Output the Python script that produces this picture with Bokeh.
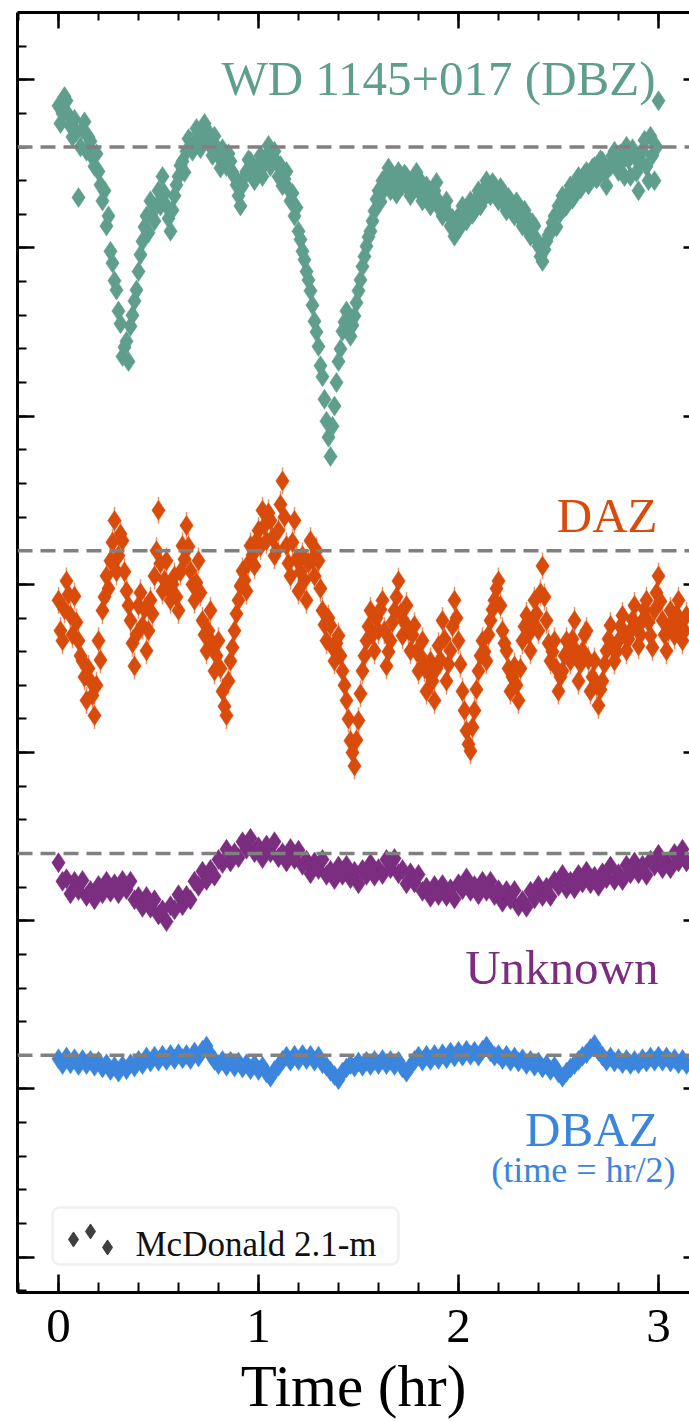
import numpy as np
from bokeh.plotting import figure
from bokeh.core.properties import value
from bokeh.models import (Range1d, LinearAxis, SingleIntervalTicker, Span,
                          BoxAnnotation, ColumnDataSource, CustomJSTickFormatter)
from bokeh.embed import file_html
from bokeh.resources import INLINE

# Normalised light curves (flux relative to each star's median level).
WD1145_CADENCE_HR = 0.01
WD1145_FLUX = [
    1.049, 1.028, 1.040, 1.060, 1.055, 1.038, 1.025, 1.012, 1.033, 1.018,
    0.940, 1.000, 1.021, 1.030, 0.995, 1.012, 1.007, 0.988, 0.977, 0.992,
    0.971, 0.955, 0.936, 0.948, 0.906, 0.918, 0.876, 0.862, 0.841, 0.830,
    0.805, 0.790, 0.751, 0.762, 0.769, 0.745, 0.787, 0.800, 0.817, 0.830,
    0.852, 0.872, 0.888, 0.905, 0.918, 0.898, 0.936, 0.925, 0.912, 0.930,
    0.948, 0.930, 0.965, 0.945, 0.930, 0.915, 0.900, 0.925, 0.942, 0.955,
    0.965, 0.978, 0.983, 0.970, 0.995, 1.010, 1.007, 0.995, 1.001, 1.022,
    1.017, 0.998, 1.007, 1.028, 1.021, 1.010, 1.001, 0.990, 1.013, 1.000,
    0.989, 0.975, 0.998, 0.985, 0.977, 0.992, 0.983, 0.970, 0.965, 0.955,
    0.942, 0.930, 0.954, 0.965, 0.971, 0.985, 0.983, 0.968, 0.960, 0.975,
    0.977, 0.990, 0.965, 0.980, 0.989, 1.002, 0.977, 0.990, 0.995, 0.982,
    0.965, 0.978, 0.954, 0.962, 0.971, 0.950, 0.936, 0.945, 0.918, 0.928,
    0.900, 0.890, 0.876, 0.866, 0.852, 0.842, 0.829, 0.812, 0.793, 0.780,
    0.763, 0.740, 0.727, 0.700, 0.674, 0.655, 0.632, 0.668, 0.692, 0.720,
    0.745, 0.760, 0.781, 0.792, 0.805, 0.790, 0.775, 0.788, 0.799, 0.815,
    0.829, 0.842, 0.858, 0.870, 0.882, 0.893, 0.900, 0.912, 0.924, 0.938,
    0.948, 0.935, 0.960, 0.950, 0.965, 0.975, 0.948, 0.958, 0.960, 0.944,
    0.971, 0.962, 0.954, 0.968, 0.965, 0.950, 0.942, 0.955, 0.960, 0.970,
    0.948, 0.960, 0.936, 0.945, 0.954, 0.940, 0.930, 0.945, 0.948, 0.958,
    0.936, 0.925, 0.918, 0.930, 0.936, 0.920, 0.906, 0.915, 0.894, 0.908,
    0.918, 0.905, 0.930, 0.915, 0.912, 0.928, 0.936, 0.920, 0.924, 0.938,
    0.948, 0.930, 0.936, 0.950, 0.960, 0.945, 0.942, 0.958, 0.954, 0.940,
    0.936, 0.952, 0.948, 0.932, 0.924, 0.940, 0.936, 0.922, 0.918, 0.935,
    0.930, 0.915, 0.906, 0.925, 0.918, 0.900, 0.894, 0.910, 0.906, 0.890,
    0.882, 0.870, 0.864, 0.878, 0.888, 0.895, 0.900, 0.910, 0.918, 0.905,
    0.930, 0.922, 0.942, 0.928, 0.930, 0.945, 0.954, 0.938, 0.942, 0.958,
    0.965, 0.950, 0.954, 0.968, 0.971, 0.955, 0.960, 0.975, 0.977, 0.962,
    0.965, 0.985, 0.983, 0.968, 0.954, 0.975, 0.977, 0.990, 0.995, 0.978,
    0.971, 0.992, 0.983, 0.965, 1.001, 0.985, 0.965, 0.998, 0.989, 0.970,
    0.948, 0.982, 0.995, 1.008, 0.977, 0.960, 1.013, 0.990, 0.960, 1.000,
    1.055,
]

DAZ_CADENCE_HR = 0.01
DAZ_FLUX = [
    0.941, 0.905, 0.893, 0.930, 0.964, 0.948, 0.923, 0.900, 0.946, 0.915,
    0.893, 0.875, 0.869, 0.850, 0.822, 0.860, 0.845, 0.828, 0.804, 0.840,
    0.893, 0.870, 0.929, 0.945, 0.970, 0.955, 0.988, 1.010, 1.036, 0.975,
    0.994, 1.020, 1.012, 0.975, 0.952, 0.935, 0.917, 0.890, 0.863, 0.900,
    0.935, 0.950, 0.911, 0.930, 0.881, 0.905, 0.941, 0.925, 0.970, 1.000,
    1.048, 0.985, 0.952, 0.965, 0.988, 0.955, 0.941, 0.960, 0.970, 0.945,
    0.929, 0.975, 1.006, 0.990, 1.030, 1.005, 0.976, 0.960, 0.941, 0.962,
    0.988, 0.950, 0.917, 0.900, 0.881, 0.905, 0.929, 0.890, 0.857, 0.875,
    0.893, 0.860, 0.833, 0.815, 0.804, 0.845, 0.869, 0.885, 0.905, 0.925,
    0.941, 0.958, 0.976, 0.965, 0.952, 0.985, 1.006, 0.995, 0.982, 1.012,
    1.024, 1.005, 1.048, 1.030, 1.012, 1.045, 1.036, 1.015, 0.994, 1.000,
    1.024, 1.055, 1.083, 1.040, 1.006, 0.985, 0.970, 1.010, 1.036, 0.990,
    0.952, 0.975, 0.994, 0.965, 0.941, 0.985, 1.012, 0.990, 0.970, 1.000,
    0.988, 0.955, 0.929, 0.912, 0.893, 0.920, 0.911, 0.885, 0.869, 0.890,
    0.899, 0.875, 0.857, 0.840, 0.822, 0.800, 0.774, 0.760, 0.744, 0.775,
    0.798, 0.830, 0.857, 0.875, 0.893, 0.910, 0.929, 0.900, 0.881, 0.920,
    0.905, 0.930, 0.941, 0.905, 0.863, 0.880, 0.893, 0.915, 0.929, 0.945,
    0.964, 0.925, 0.899, 0.915, 0.935, 0.905, 0.881, 0.900, 0.911, 0.880,
    0.857, 0.875, 0.893, 0.860, 0.833, 0.855, 0.869, 0.845, 0.822, 0.860,
    0.887, 0.870, 0.917, 0.895, 0.845, 0.865, 0.881, 0.910, 0.941, 0.920,
    0.893, 0.865, 0.833, 0.810, 0.786, 0.770, 0.762, 0.790, 0.810, 0.835,
    0.857, 0.875, 0.893, 0.880, 0.869, 0.900, 0.917, 0.930, 0.941, 0.955,
    0.964, 0.935, 0.905, 0.890, 0.881, 0.860, 0.833, 0.850, 0.863, 0.840,
    0.822, 0.860, 0.893, 0.910, 0.923, 0.900, 0.881, 0.915, 0.941, 0.925,
    0.905, 0.950, 0.982, 0.945, 0.917, 0.890, 0.869, 0.880, 0.893, 0.860,
    0.833, 0.850, 0.857, 0.875, 0.893, 0.880, 0.869, 0.895, 0.917, 0.880,
    0.845, 0.865, 0.881, 0.900, 0.905, 0.870, 0.833, 0.850, 0.869, 0.840,
    0.816, 0.835, 0.845, 0.865, 0.881, 0.895, 0.911, 0.885, 0.869, 0.880,
    0.893, 0.910, 0.923, 0.900, 0.881, 0.895, 0.905, 0.918, 0.935, 0.910,
    0.887, 0.900, 0.917, 0.930, 0.941, 0.915, 0.899, 0.885, 0.929, 0.950,
    0.970, 0.940, 0.917, 0.900, 0.881, 0.905, 0.929, 0.915, 0.899, 0.925,
    0.941, 0.910, 0.893, 0.905, 0.923,
]

UNKNOWN_CADENCE_HR = 0.02
UNKNOWN_FLUX = [
    0.989, 0.967, 0.970, 0.952, 0.967, 0.956, 0.968, 0.949, 0.956, 0.945,
    0.962, 0.952, 0.967, 0.954, 0.964, 0.952, 0.968, 0.957, 0.967, 0.945,
    0.949, 0.936, 0.949, 0.935, 0.945, 0.927, 0.933, 0.919, 0.938, 0.933,
    0.951, 0.938, 0.950, 0.945, 0.967, 0.961, 0.979, 0.968, 0.981, 0.973,
    0.993, 0.988, 1.005, 0.990, 1.001, 0.995, 1.014, 1.005, 1.018, 1.001,
    1.008, 0.994, 1.010, 1.001, 1.014, 0.995, 1.001, 0.990, 1.006, 0.993,
    1.004, 0.986, 0.992, 0.976, 0.990, 0.981, 0.993, 0.974, 0.980, 0.969,
    0.985, 0.974, 0.986, 0.970, 0.979, 0.964, 0.981, 0.974, 0.988, 0.973,
    0.982, 0.975, 0.993, 0.982, 0.994, 0.976, 0.981, 0.964, 0.977, 0.965,
    0.975, 0.955, 0.960, 0.948, 0.962, 0.950, 0.963, 0.949, 0.958, 0.946,
    0.964, 0.957, 0.971, 0.955, 0.962, 0.951, 0.967, 0.955, 0.967, 0.950,
    0.957, 0.942, 0.956, 0.945, 0.956, 0.937, 0.944, 0.936, 0.955, 0.946,
    0.962, 0.949, 0.960, 0.949, 0.968, 0.961, 0.975, 0.958, 0.967, 0.958,
    0.975, 0.965, 0.979, 0.964, 0.973, 0.961, 0.977, 0.970, 0.985, 0.968,
    0.976, 0.968, 0.986, 0.976, 0.990, 0.976, 0.986, 0.974, 0.992, 0.985,
    0.999, 0.982, 0.990, 0.982, 1.000, 0.990, 1.005, 0.990,
]

# The DBAZ star is sampled in real hours but drawn at half speed (time = hr/2).
DBAZ_CADENCE_HR = 0.04
DBAZ_FLUX = [
    0.996, 0.989, 0.998, 0.990, 0.996, 0.988, 0.995, 0.989, 0.994, 0.987,
    0.993, 0.985, 0.990, 0.982, 0.987, 0.980, 0.988, 0.983, 0.990, 0.986,
    0.994, 0.989, 0.998, 0.992, 0.999, 0.993, 1.000, 0.994, 1.001, 0.995,
    1.002, 0.996, 1.001, 0.995, 1.004, 0.998, 1.006, 1.011, 1.001, 0.994,
    0.989, 0.994, 0.987, 0.993, 0.986, 0.992, 0.985, 0.990, 0.983, 0.989,
    0.982, 0.987, 0.979, 0.974, 0.982, 0.987, 0.994, 0.999, 0.993, 1.000,
    0.994, 1.001, 0.995, 1.000, 0.993, 0.999, 0.990, 0.987, 0.981, 0.976,
    0.971, 0.980, 0.985, 0.989, 0.986, 0.992, 0.987, 0.993, 0.988, 0.994,
    0.989, 0.995, 0.989, 0.994, 0.988, 0.993, 0.985, 0.980, 0.987, 0.994,
    0.999, 0.993, 1.000, 0.994, 1.001, 0.995, 1.002, 0.996, 1.004, 0.998,
    1.005, 0.999, 1.006, 1.000, 1.005, 0.999, 1.006, 1.011, 1.004, 0.999,
    1.001, 0.995, 1.000, 0.993, 0.998, 0.992, 0.996, 0.989, 0.994, 0.987,
    0.992, 0.985, 0.989, 0.982, 0.987, 0.979, 0.974, 0.980, 0.985, 0.989,
    0.994, 0.999, 1.002, 1.008, 1.013, 1.005, 0.999, 0.993, 0.998, 0.992,
    0.996, 0.990, 0.995, 0.989, 0.994, 0.990, 0.996, 0.992, 0.998, 0.993,
    0.999, 0.993, 0.998, 0.992, 0.996, 0.990, 0.995, 0.989,
]

SERIES_FLUX = [WD1145_FLUX, DAZ_FLUX, UNKNOWN_FLUX, DBAZ_FLUX]
SERIES_CADENCE = [WD1145_CADENCE_HR, DAZ_CADENCE_HR, UNKNOWN_CADENCE_HR, DBAZ_CADENCE_HR]
SERIES_TIME_SCALE = [1.0, 1.0, 1.0, 0.5]
SERIES_OFFSET = [0.32, -0.16, -0.52, -0.76]     # vertical shift of each light curve
SERIES_ERROR = [0.008, 0.016, 0.005, 0.004]     # typical photometric uncertainty
SERIES_COLOR = ["#5f9e8c", "#d84b0a", "#7b2d80", "#3b85dd"]

STAR_LABELS = ["WD 1145+017 (DBZ)", "DAZ", "Unknown", "DBAZ"]
LEGEND_LABEL = "McDonald 2.1-m"
X_LABEL = "Time (hr)"

SERIF = "Liberation Serif"
SERIF_Q = "'Liberation Serif'"     # quoted family name for glyph text

p = figure(width=689, height=1421,
           x_range=Range1d(-0.205, 3.155), y_range=Range1d(-0.042, 1.48),
           output_backend="svg", toolbar_location=None,
           min_border_left=17, min_border_right=0,
           min_border_top=12, min_border_bottom=128)
p.outline_line_color = None
p.background_fill_color = "white"
p.border_fill_color = "white"
p.xgrid.visible = False
p.ygrid.visible = False

x_ticker = SingleIntervalTicker(interval=1, num_minor_ticks=5)
y_ticker = SingleIntervalTicker(interval=0.2, num_minor_ticks=5)
blank = CustomJSTickFormatter(code="return ''")


def style_axis(ax, major_in, minor_in, line=True):
    ax.major_tick_in = major_in
    ax.major_tick_out = 0
    ax.minor_tick_in = minor_in
    ax.minor_tick_out = 0
    ax.major_tick_line_width = 2.5
    ax.minor_tick_line_width = 2
    ax.major_tick_line_color = "black"
    ax.minor_tick_line_color = "black"
    ax.axis_line_width = 3
    ax.axis_line_color = "black" if line else None


def hide_labels(ax):
    ax.formatter = blank
    ax.major_label_text_font_size = "1px"
    ax.major_label_standoff = 0


# bottom time axis
xa = p.xaxis[0]
xa.ticker = x_ticker
style_axis(xa, 18, 10)
xa.major_label_text_font = SERIF
xa.major_label_text_font_size = "49px"
xa.major_label_text_color = "black"
xa.major_label_standoff = 17
xa.axis_label = X_LABEL
xa.axis_label_text_font = SERIF
xa.axis_label_text_font_size = "59px"
xa.axis_label_text_font_style = "normal"
xa.axis_label_text_color = "black"
xa.axis_label_standoff = 8

# left flux axis, unlabelled
ya = p.yaxis[0]
ya.ticker = y_ticker
style_axis(ya, 17, 9)
hide_labels(ya)

top = LinearAxis(ticker=x_ticker)
style_axis(top, 16, 8)
hide_labels(top)
p.add_layout(top, "above")

right = LinearAxis(ticker=y_ticker)
style_axis(right, 6, 0, line=False)
hide_labels(right)
p.add_layout(right, "right")

# light curves with error bars
for flux, cad, tscale, off, err, color in zip(SERIES_FLUX, SERIES_CADENCE, SERIES_TIME_SCALE,
                                              SERIES_OFFSET, SERIES_ERROR, SERIES_COLOR):
    t = np.arange(len(flux)) * cad * tscale
    y = np.asarray(flux) + off
    src = ColumnDataSource(dict(t=t, y=y, lo=y - err, hi=y + err))
    p.segment(x0="t", y0="lo", x1="t", y1="hi", source=src,
              line_color=color, line_width=1.5, line_alpha=0.6)
    p.scatter(x="t", y="y", source=src, marker="diamond", size=20,
              fill_color=color, line_color=color, line_width=0.5)

# reference level of each star
for off in SERIES_OFFSET:
    p.add_layout(Span(location=1.0 + off, dimension="width", line_color="#808080",
                      line_dash="15 8", line_width=3.5))

# star labels, right-aligned near the end of each light curve
label_src = ColumnDataSource(dict(
    x=[2.985, 2.995, 3.0, 3.0],
    y=[1.402, 0.882, 0.344, 0.152],
    text=STAR_LABELS,
    color=SERIES_COLOR,
))
p.text(x="x", y="y", text="text", source=label_src, text_color="color",
       text_font=value(SERIF_Q), text_font_size=value("49px"),
       text_align="right", text_baseline="alphabetic")
p.text(x=[3.085], y=[0.104], text=["(time = hr/2)"], text_color=SERIES_COLOR[3],
       text_font=value(SERIF_Q), text_font_size=value("36px"),
       text_align="right", text_baseline="alphabetic")

# legend: rounded frame, three diamonds and the instrument name
p.add_layout(BoxAnnotation(left=-0.03, right=1.70, bottom=-0.0087, top=0.059,
                           fill_color="white", fill_alpha=1.0,
                           line_color="#cccccc", line_width=2.5,
                           border_radius=7, level="underlay"))
legend_src = ColumnDataSource(dict(x=[0.075, 0.16, 0.245], y=[0.0211, 0.0306, 0.0116]))
p.scatter(x="x", y="y", source=legend_src, marker="diamond", size=15,
          fill_color="#3f3f3f", line_color="#3f3f3f")
p.text(x=[0.385], y=[0.0151], text=[LEGEND_LABEL], text_color="#111111",
       text_font=value(SERIF_Q), text_font_size=value("35px"),
       text_align="left", text_baseline="alphabetic")

open("out.html", "w").write(file_html(p, INLINE))
